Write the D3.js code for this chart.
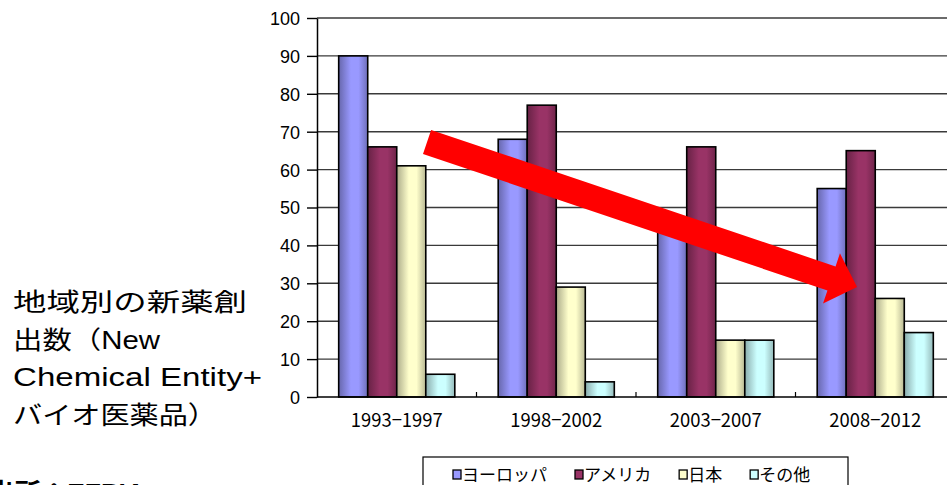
<!DOCTYPE html>
<html><head><meta charset="utf-8">
<script src="https://cdn.jsdelivr.net/npm/d3@7"></script>
<style>html,body{margin:0;padding:0;background:#fff;overflow:hidden}</style>
</head><body>
<svg id="chart" width="947" height="485"></svg>
<script>
const categories = ["1993-1997", "1998-2002", "2003-2007", "2008-2012"];
const seriesNames = ["ヨーロッパ", "アメリカ", "日本", "その他"];
const europe  = [90, 68, 46, 55];
const america = [66, 77, 66, 65];
const japan   = [61, 29, 15, 26];
const other   = [6, 4, 15, 17];
const yTicks = [0, 10, 20, 30, 40, 50, 60, 70, 80, 90, 100];
const seriesColors = ["#9999FF", "#993366", "#FFFFCC", "#CCFFFF"];
const titleLines = ["地域別の新薬創", "出数（New", "Chemical Entity+", "バイオ医薬品）"];
const sourceText = "出所：EFPIA";
// arrow annotation in data terms: [category position (band units), value]
const arrowFrom = [0.69, 67.3];
const arrowTo = [3.386, 29];

const values = [europe, america, japan, other];
const svg = d3.select("#chart");
const pLeft = 317, pRight = 955, pTop = 18, pBottom = 397;

const x0 = d3.scaleBand().domain(categories).range([pLeft, pRight]).padding(0);
const bw = x0.bandwidth();
const x1 = d3.scaleBand().domain(seriesNames).range([bw * 0.136, bw * 0.864]).padding(0);
const y = d3.scaleLinear().domain([0, 100]).range([pBottom, pTop]);
const xPos = d3.scaleLinear().domain([0, 4]).range([pLeft, pRight]);

// gradients
const defs = svg.append("defs");
seriesColors.forEach((c, i) => {
  const g = defs.append("linearGradient").attr("id", "g" + i)
    .attr("x1", "0%").attr("x2", "100%").attr("y1", "0%").attr("y2", "0%");
  const base = d3.color(c);
  g.append("stop").attr("offset", "0%").attr("stop-color", base.darker(1.1));
  g.append("stop").attr("offset", "42%").attr("stop-color", base);
  g.append("stop").attr("offset", "68%").attr("stop-color", base);
  g.append("stop").attr("offset", "100%").attr("stop-color", base.darker(0.9));
});

// gridlines
svg.append("g").selectAll("line").data(yTicks.filter(d => d > 0)).join("line")
  .attr("x1", pLeft).attr("x2", pRight)
  .attr("y1", d => y(d)).attr("y2", d => y(d))
  .attr("stroke", "#3a3a3a").attr("stroke-width", 1.4);

// y axis
const yAxis = d3.axisLeft(y).tickValues(yTicks).tickSize(10).tickPadding(7).tickSizeOuter(0);
const ya = svg.append("g").attr("transform", `translate(${pLeft},0)`).call(yAxis);
ya.select(".domain").attr("stroke", "#000").attr("stroke-width", 1.5);
ya.selectAll(".tick line").attr("stroke", "#000").attr("stroke-width", 1.4);
ya.selectAll(".tick text").attr("font-family", "'Liberation Sans', Arial, sans-serif")
  .attr("font-size", 18).attr("fill", "#000").attr("dy", "0.36em");

// bars
const groups = svg.append("g").selectAll("g").data(categories).join("g")
  .attr("transform", d => `translate(${x0(d)},0)`);
groups.selectAll("rect").data((c, ci) => seriesNames.map((s, si) => ({ s, si, v: values[si][ci] })))
  .join("rect")
  .attr("x", d => x1(d.s)).attr("width", x1.bandwidth())
  .attr("y", d => y(d.v)).attr("height", d => y(0) - y(d.v))
  .attr("fill", d => `url(#g${d.si})`)
  .attr("stroke", "#000").attr("stroke-width", 1.6);

// x axis
const xa = svg.append("g").attr("transform", `translate(0,${pBottom})`);
xa.append("line").attr("x1", pLeft).attr("x2", pRight).attr("stroke", "#000").attr("stroke-width", 1.5);
xa.selectAll("line.tk").data(categories.slice(1)).join("line").attr("class", "tk")
  .attr("x1", d => x0(d)).attr("x2", d => x0(d)).attr("y1", 0).attr("y2", -5)
  .attr("stroke", "#000").attr("stroke-width", 1.2);
xa.selectAll("text").data(categories).join("text")
  .attr("x", d => x0(d) + bw / 2).attr("y", 30)
  .attr("text-anchor", "middle")
  .attr("textLength", 92).attr("lengthAdjust", "spacingAndGlyphs")
  .attr("font-family", "'Noto Sans CJK JP', sans-serif").attr("font-size", 19)
  .attr("fill", "#000").text(d => d.replace("-", "−"));

// arrow
(function () {
  const ax = xPos(arrowFrom[0]), ay = y(arrowFrom[1]);
  const bx = xPos(arrowTo[0]), by = y(arrowTo[1]);
  const dx = bx - ax, dy = by - ay, L = Math.hypot(dx, dy);
  const ux = dx / L, uy = dy / L, px = -uy, py = ux;
  const sw = 12.7, hw = 26.5, hl = 27;
  const hx = bx - ux * hl, hy = by - uy * hl;
  const pts = [
    [ax + px * sw, ay + py * sw], [hx + px * sw, hy + py * sw], [hx + px * hw, hy + py * hw],
    [bx, by], [hx - px * hw, hy - py * hw], [hx - px * sw, hy - py * sw], [ax - px * sw, ay - py * sw]
  ];
  svg.append("polygon").attr("points", pts.map(p => p.join(",")).join(" ")).attr("fill", "#FF0000");
})();

// title text
const tw = [234, 147, 249, 204];
const tb = [311, 348.5, 386, 423.5];
svg.append("g").selectAll("text").data(titleLines).join("text")
  .attr("x", 13).attr("y", (d, i) => tb[i])
  .attr("textLength", (d, i) => tw[i]).attr("lengthAdjust", "spacingAndGlyphs")
  .attr("font-family", "'Liberation Sans', 'Noto Sans CJK JP', sans-serif")
  .attr("font-size", 25).attr("fill", "#000").text(d => d);

// source text (cut off at bottom, as in the reference)
svg.append("text").attr("x", -12).attr("y", 502).attr("textLength", 157).attr("lengthAdjust", "spacingAndGlyphs")
  .attr("font-family", "'Liberation Sans', 'Noto Sans CJK JP', sans-serif")
  .attr("font-size", 26).attr("font-weight", "bold").attr("fill", "#000").text(sourceText);

// legend
const lg = svg.append("g");
lg.append("rect").attr("x", 423).attr("y", 457).attr("width", 425).attr("height", 40)
  .attr("fill", "#fff").attr("stroke", "#000").attr("stroke-width", 1.2);
let cx = 453;
seriesNames.forEach((s, i) => {
  lg.append("rect").attr("x", cx).attr("y", 470).attr("width", 8).attr("height", 9)
    .attr("fill", seriesColors[i]).attr("stroke", "#000").attr("stroke-width", 1.3);
  const t = lg.append("text").attr("x", cx + 9).attr("y", 481)
    .attr("font-family", "'Noto Sans CJK JP', sans-serif").attr("font-size", 17)
    .attr("fill", "#000").text(s);
  cx = cx + 9 + t.node().getComputedTextLength() + 28;
});
</script>
</body></html>
